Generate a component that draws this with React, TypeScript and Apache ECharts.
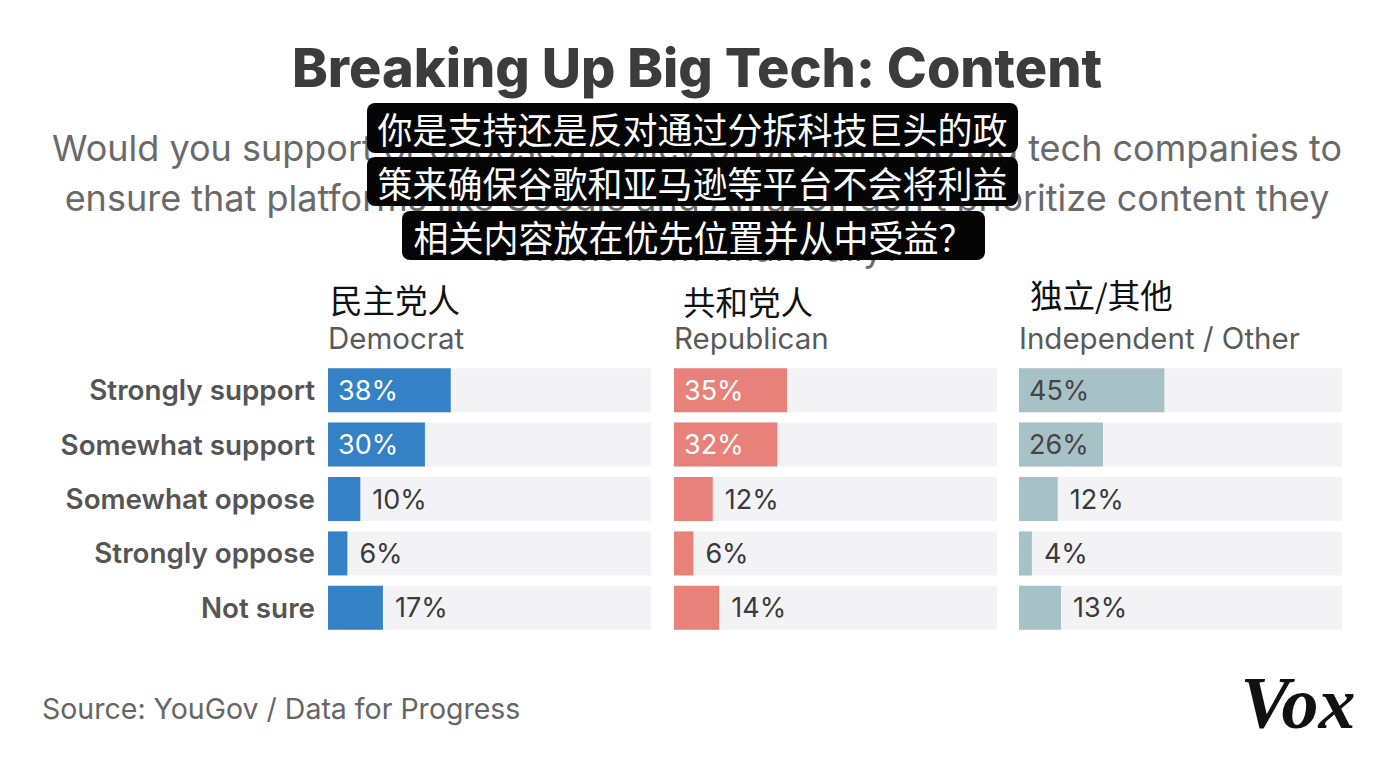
import React, { useEffect, useRef } from "react";
import * as echarts from "echarts";

const categories = ["Strongly support", "Somewhat support", "Somewhat oppose", "Strongly oppose", "Not sure"];
const democrat = [38, 30, 10, 6, 17];
const republican = [35, 32, 12, 6, 14];
const independent = [45, 26, 12, 4, 13];

const panelZh = ["民主党人", "共和党人", "独立/其他"];
const panelEn = ["Democrat", "Republican", "Independent / Other"];
const panelValues = [democrat, republican, independent];
const panelColors = ["#3581c5", "#e9817b", "#a6c2c7"];
const insideLabelColors = ["#ffffff", "#ffffff", "#454545"];

const titleText = "Breaking Up Big Tech: Content";
const subtitleLines = [
  "Would you support or oppose a policy of breaking up big tech companies to",
  "ensure that platforms like Google and Amazon don't prioritize content they",
  "benefit from financially?",
];
const captionLines = [
  "你是支持还是反对通过分拆科技巨头的政",
  "策来确保谷歌和亚马逊等平台不会将利益",
  "相关内容放在优先位置并从中受益？",
];
const sourceText = "Source: YouGov / Data for Progress";

const FONT = "Inter, 'Noto Sans CJK SC', sans-serif";
const CJK = "'Noto Sans CJK SC', sans-serif";

export default function App() {
  const ref = useRef<HTMLDivElement>(null);
  useEffect(() => {
    document.body.style.margin = "0";
    const chart = echarts.init(ref.current!, null, { renderer: "svg" });
    const gridLefts = [328, 674, 1019];
    const grids = gridLefts.map((l) => ({ left: l, width: 323, top: 363, height: 272 }));
    const xAxes = gridLefts.map((_, i) => ({ type: "value", gridIndex: i, min: 0, max: 100, show: false }));
    const yAxes = gridLefts.map((_, i) => ({
      type: "category",
      gridIndex: i,
      data: categories,
      inverse: true,
      axisLine: { show: false },
      axisTick: { show: false },
      splitLine: { show: false },
      axisLabel: {
        show: i === 0,
        fontFamily: FONT,
        fontWeight: 600,
        fontSize: 27.8,
        color: "#555555",
        margin: 13,
      },
    }));
    const series = panelValues.map((vals, i) => ({
      type: "bar",
      xAxisIndex: i,
      yAxisIndex: i,
      barWidth: 44,
      showBackground: true,
      backgroundStyle: { color: "#f3f3f5" },
      itemStyle: { color: panelColors[i] },
      data: vals.map((v) => ({
        value: v,
        label:
          v >= 20
            ? { show: true, position: "insideLeft", distance: 10, color: insideLabelColors[i] }
            : { show: true, position: "right", distance: 12, color: "#3a3a3a" },
      })),
      label: {
        show: true,
        formatter: "{c}%",
        fontFamily: FONT,
        fontSize: 27,
      },
    }));

    const graphic: any[] = [];
    graphic.push({
      type: "text",
      x: 697,
      y: 67,
      style: {
        text: titleText,
        textAlign: "center",
        textVerticalAlign: "middle",
        fontFamily: FONT,
        fontWeight: 800,
        fontSize: 54,
        fill: "#3c3c3c",
      },
    });
    subtitleLines.forEach((t, k) => {
      graphic.push({
        type: "text",
        x: 697,
        y: 148 + k * 50,
        style: {
          text: t,
          textAlign: "center",
          textVerticalAlign: "middle",
          fontFamily: FONT,
          fontSize: 36,
          lineHeight: 36,
          fill: "#6a6a6a",
        },
      });
    });
    const boxes = [
      { x: 367, y: 103, w: 651, h: 50 },
      { x: 367, y: 157, w: 651, h: 49 },
      { x: 402, y: 211, w: 583, h: 49 },
    ];
    boxes.forEach((b, k) => {
      graphic.push({
        type: "rect",
        shape: { x: b.x, y: b.y, width: b.w, height: b.h, r: 8 },
        style: { fill: "#050505" },
      });
      graphic.push({
        type: "text",
        x: b.x + b.w / 2,
        y: b.y + b.h / 2,
        scaleY: 1.05,
        style: {
          text: captionLines[k],
          textAlign: "center",
          textVerticalAlign: "middle",
          fontFamily: CJK,
          fontSize: 35,
          lineHeight: 35,
          fill: "#ffffff",
        },
      });
    });
    const zhPos = [
      { x: 330, y: 298 },
      { x: 683, y: 300 },
      { x: 1030, y: 293 },
    ];
    gridLefts.forEach((l, i) => {
      graphic.push({
        type: "text",
        x: zhPos[i].x,
        y: zhPos[i].y,
        style: {
          text: panelZh[i],
          textAlign: "left",
          textVerticalAlign: "middle",
          fontFamily: CJK,
          fontSize: 32.5,
          lineHeight: 32,
          fill: "#111111",
        },
      });
      graphic.push({
        type: "text",
        x: l,
        y: 338,
        style: {
          text: panelEn[i],
          textAlign: "left",
          textVerticalAlign: "middle",
          fontFamily: FONT,
          fontSize: 29.5,
          lineHeight: 28,
          fill: "#5a5a5a",
        },
      });
    });
    graphic.push({
      type: "text",
      x: 42,
      y: 708,
      style: {
        text: sourceText,
        textAlign: "left",
        textVerticalAlign: "middle",
        fontFamily: FONT,
        fontSize: 28.5,
        fill: "#666666",
      },
    });
    graphic.push({
      type: "text",
      x: 1298,
      y: 703,
      style: {
        text: "Vox",
        textAlign: "center",
        textVerticalAlign: "middle",
        fontFamily: "'Liberation Serif', serif",
        fontWeight: "bold",
        fontStyle: "italic",
        fontSize: 74,
        fill: "#111111",
      },
    });

    chart.setOption({
      animation: false,
      backgroundColor: "#ffffff",
      grid: grids,
      xAxis: xAxes,
      yAxis: yAxes,
      series,
      graphic,
    });
    return () => chart.dispose();
  }, []);
  return <div ref={ref} style={{ width: 1395, height: 767 }} />;
}
